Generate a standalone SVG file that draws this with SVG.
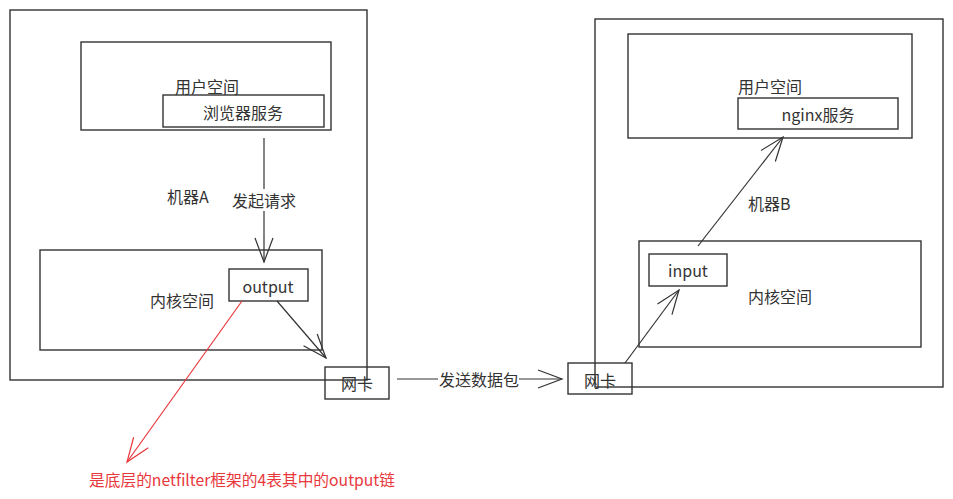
<svg xmlns="http://www.w3.org/2000/svg" width="953" height="499" viewBox="0 0 953 499">
<defs>
<style>
.box{fill:none;stroke:#333;stroke-width:1.4}
.ln{fill:none;stroke:#333;stroke-width:1.2}
.red{fill:none;stroke:#e8383d;stroke-width:1.2}
text{font-family:"Noto Sans CJK SC","Microsoft YaHei",sans-serif;font-size:16px;fill:#333;dominant-baseline:central}
.c{text-anchor:middle}
.rt{fill:#e8383d}
</style>
<marker id="ah" markerUnits="userSpaceOnUse" markerWidth="40" markerHeight="40" viewBox="-30 -15 40 30" refX="0" refY="0" orient="auto">
<path d="M-24,-9 L0,0 L-24,9" fill="none" stroke="#333" stroke-width="1.2"/>
</marker>
<marker id="ahr" markerUnits="userSpaceOnUse" markerWidth="40" markerHeight="40" viewBox="-30 -15 40 30" refX="0" refY="0" orient="auto">
<path d="M-24,-9 L0,0 L-24,9" fill="none" stroke="#e8383d" stroke-width="1.2"/>
</marker>
</defs>
<rect width="953" height="499" fill="#fff"/>

<g id="machineA">
<rect class="box" x="10" y="10" width="357" height="370"/>
<text x="167" y="196">机器A</text>
</g>
<g id="userA">
<rect class="box" x="81" y="42" width="250" height="88"/>
<text x="175" y="86">用户空间</text>
</g>
<g id="browser">
<rect class="box" x="163" y="95" width="161" height="32"/>
<text class="c" x="243" y="112">浏览器服务</text>
</g>
<g id="kernelA">
<rect class="box" x="40" y="250" width="282" height="100"/>
<text x="150" y="300">内核空间</text>
</g>
<g id="output">
<rect class="box" x="229" y="269" width="79" height="32"/>
<text class="c" x="268" y="286">output</text>
</g>
<g id="nicA">
<rect class="box" x="325" y="367" width="64" height="32"/>
<text class="c" x="357" y="383">网卡</text>
</g>

<g id="machineB">
<rect class="box" x="595" y="19" width="348" height="368"/>
<text x="748" y="203">机器B</text>
</g>
<g id="userB">
<rect class="box" x="628" y="34" width="284" height="104"/>
<text x="738" y="86">用户空间</text>
</g>
<g id="nginx">
<rect class="box" x="738" y="98" width="160" height="31"/>
<text class="c" x="818" y="114">nginx服务</text>
</g>
<g id="kernelB">
<rect class="box" x="639" y="241" width="282" height="106"/>
<text x="748" y="296">内核空间</text>
</g>
<g id="input">
<rect class="box" x="649" y="254" width="78" height="32"/>
<text class="c" x="688" y="270">input</text>
</g>
<g id="nicB">
<rect class="box" x="568" y="363" width="64" height="31"/>
<text class="c" x="600" y="380">网卡</text>
</g>

<g id="connectors">
<line class="ln" x1="264" y1="138" x2="264" y2="262" marker-end="url(#ah)"/>
<rect x="231" y="189" width="66" height="22" fill="#fff"/>
<text x="232" y="200">发起请求</text>
<line class="ln" x1="277" y1="301" x2="326" y2="358" marker-end="url(#ah)"/>
<line class="red" x1="242" y1="301" x2="127" y2="462" marker-end="url(#ahr)"/>
<line class="ln" x1="397" y1="379" x2="562" y2="379" marker-end="url(#ah)"/>
<rect x="438" y="368" width="81" height="22" fill="#fff"/>
<text x="439" y="379">发送数据包</text>
<line class="ln" x1="625" y1="363" x2="679" y2="290" marker-end="url(#ah)"/>
<line class="ln" x1="698" y1="246" x2="783" y2="137" marker-end="url(#ah)"/>
</g>
<text class="rt" x="89" y="479" textLength="306" lengthAdjust="spacingAndGlyphs">是底层的netfilter框架的4表其中的output链</text>
</svg>
